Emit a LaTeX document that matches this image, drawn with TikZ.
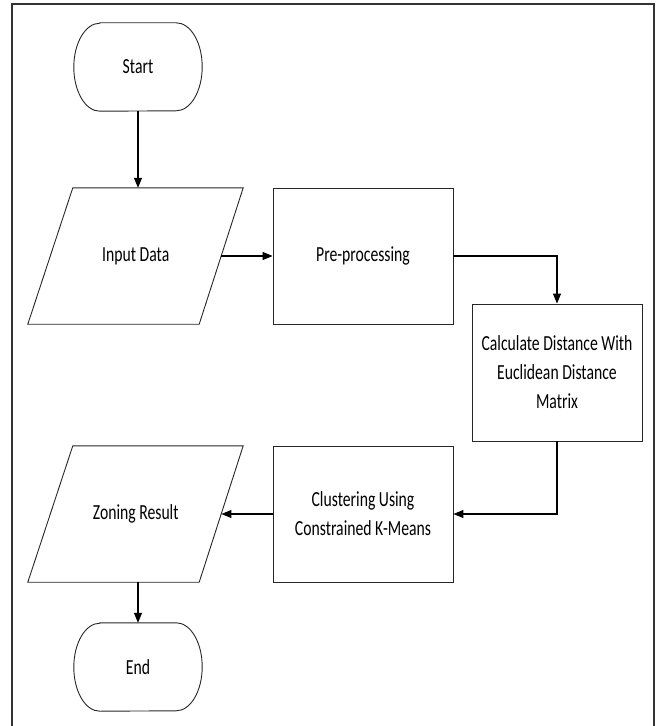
\documentclass[tikz,border=0pt]{standalone}
\usepackage{fontspec}
\setmainfont{Carlito}[FakeStretch=0.73]
\usetikzlibrary{arrows.meta,calc}
\begin{document}
\begin{tikzpicture}[x=1bp,y=-1bp,
  box/.style={draw=black!85,line width=0.9bp,rectangle,inner sep=0pt,align=center,
    font=\fontsize{21.5bp}{29bp}\selectfont},
  hid/.style={rectangle,inner sep=0pt,align=center,
    font=\fontsize{21.5bp}{29bp}\selectfont},
  shp/.style={draw=black!85,line width=0.9bp},
  arr/.style={draw=black,line width=1.1bp,-{Triangle[length=10bp,width=8bp]}},
  frame/.style={draw=black!80,line width=1.1bp}]
\useasboundingbox (0,0) rectangle (656,726);
% frame
\draw[frame] (12,726) -- (12,4) -- (654,4) -- (654,726);
% nodes
\node[hid,minimum width=128bp,minimum height=88bp] (start) at (138,67) {Start};
\node[hid,minimum width=171bp,minimum height=136bp] (inp) at (135.75,256) {Input Data};
\node[box,minimum width=180bp,minimum height=136bp] (pre) at (363,256) {Pre-processing};
\node[box,minimum width=170bp,minimum height=137bp] (calc) at (557,372.5) {Calculate Distance With\\Euclidean Distance\\Matrix};
\node[box,minimum width=180bp,minimum height=136bp] (clus) at (363,514) {Clustering Using\\Constrained K-Means};
\node[hid,minimum width=171bp,minimum height=136bp] (zon) at (135.75,514) {Zoning Result};
\node[hid,minimum width=128bp,minimum height=88bp] (end) at (138,667) {End};
% terminal outlines
\foreach \n in {start,end}{
  \draw[shp] ($(\n.north west)+(26,0)$) -- ($(\n.north east)+(-26,0)$)
    arc[start angle=-90,end angle=90,x radius=26,y radius=44]
    -- ($(\n.south west)+(26,0)$)
    arc[start angle=90,end angle=270,x radius=26,y radius=44] -- cycle;
}
% parallelogram outlines
\foreach \n in {inp,zon}{
  \draw[shp] ($(\n.north west)+(22.75,0)$) -- ($(\n.north east)+(21.75,0)$)
    -- ($(\n.south east)+(-22.25,0)$) -- ($(\n.south west)+(-22.25,0)$) -- cycle;
}
% connectors
\draw[arr] (start.south) -- (start.south |- inp.north);
\draw[arr] (inp.east) -- (pre.west);
\draw[arr] (pre.east) -| (calc.north);
\draw[arr] (calc.south) |- (clus.east);
\draw[arr] (clus.west) -- (zon.east);
\draw[arr] (end.north |- zon.south) -- (end.north);
\end{tikzpicture}
\end{document}
